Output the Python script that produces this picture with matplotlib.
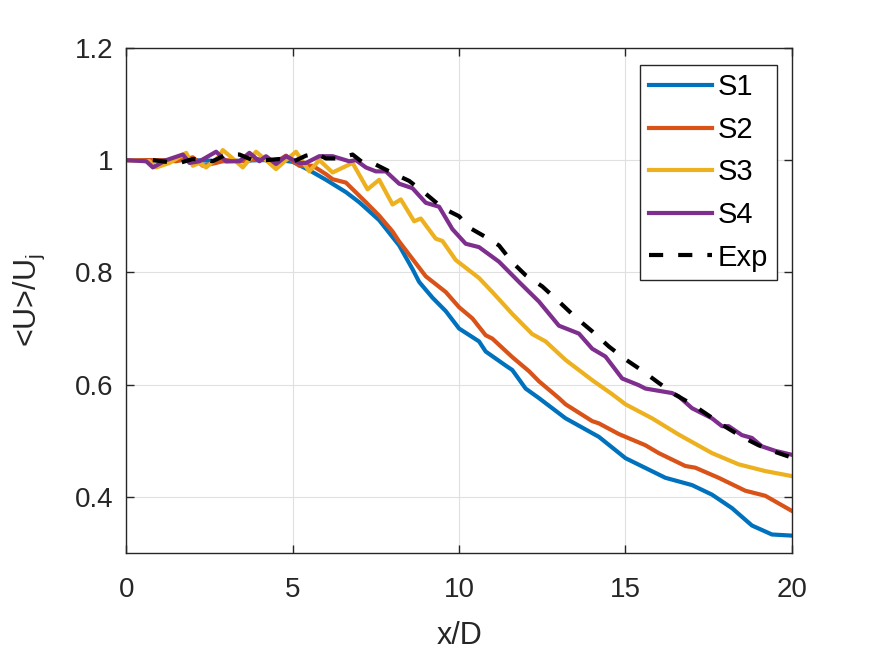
import matplotlib
matplotlib.use("Agg")
import matplotlib.pyplot as plt

plt.rcParams['font.family'] = ['Liberation Sans', 'DejaVu Sans']
plt.rcParams['mathtext.fontset'] = 'custom'
plt.rcParams['mathtext.rm'] = 'Liberation Sans'

# ---- data ----
s1_x = [0, 1, 2, 3, 4, 4.6, 5.0, 5.5, 6.0, 6.6, 7.0, 7.6, 8.2, 8.6, 8.8, 9.2, 9.6, 10.0,
        10.6, 10.8, 11.4, 11.6, 12.0, 12.4, 12.8, 13.2, 14.2, 15.0, 16.2, 17.0, 17.6,
        18.2, 18.8, 19.4, 20.0]
s1_y = [1.0, 1.0, 1.0, 0.998, 1.0, 1.0, 0.997, 0.982, 0.965, 0.943, 0.925, 0.893, 0.848,
        0.806, 0.783, 0.755, 0.731, 0.70, 0.677, 0.659, 0.634, 0.626, 0.593, 0.576, 0.558,
        0.540, 0.507, 0.469, 0.434, 0.421, 0.404, 0.380, 0.349, 0.333, 0.331]

s2_x = [0, 1, 1.5, 2.0, 2.3, 2.7, 3.0, 3.5, 4.0, 4.5, 4.8, 5.2, 5.6, 6.0, 6.2, 6.6, 7.2,
        7.6, 8.0, 8.2, 9.0, 9.6, 10.0, 10.4, 10.8, 11.0, 11.6, 12.1, 12.4, 13.0, 13.2,
        14.0, 14.2, 14.8, 15.6, 16.0, 16.8, 17.1, 17.8, 18.6, 19.2, 20.0]
s2_y = [1.0, 1.0, 0.998, 1.005, 0.99, 0.995, 1.0, 0.998, 1.002, 0.997, 1.008, 0.99, 0.99,
        0.975, 0.966, 0.960, 0.925, 0.901, 0.873, 0.855, 0.793, 0.765, 0.738, 0.718, 0.688,
        0.682, 0.649, 0.624, 0.606, 0.576, 0.565, 0.535, 0.531, 0.512, 0.492, 0.478, 0.455,
        0.452, 0.434, 0.411, 0.402, 0.375]

s3_x = [0, 0.7, 0.9, 1.3, 1.8, 2.0, 2.2, 2.4, 2.8, 2.9, 3.2, 3.5, 3.9, 4.2, 4.5, 4.8, 5.1,
        5.5, 5.8, 6.2, 6.8, 7.25, 7.6, 8.0, 8.25, 8.65, 8.85, 9.3, 9.5, 9.9, 10.6, 11.0,
        11.6, 12.2, 12.6, 13.2, 14.0, 14.6, 15.0, 15.8, 16.6, 17.6, 18.4, 19.2, 20.0]
s3_y = [1.0, 0.998, 0.987, 0.995, 1.013, 0.99, 0.995, 0.987, 1.007, 1.018, 1.003, 0.987,
        1.015, 1.0, 0.984, 1.0, 1.015, 0.98, 1.0, 0.978, 0.995, 0.948, 0.965, 0.921, 0.93,
        0.891, 0.896, 0.86, 0.856, 0.822, 0.79, 0.765, 0.726, 0.69, 0.677, 0.644, 0.608,
        0.583, 0.565, 0.540, 0.511, 0.478, 0.458, 0.446, 0.437]

s4_x = [0, 0.6, 0.8, 1.2, 1.7, 1.9, 2.2, 2.7, 3.0, 3.4, 3.7, 4.0, 4.2, 4.5, 4.8, 5.2, 5.4,
        5.8, 6.2, 6.7, 6.9, 7.2, 7.5, 7.8, 8.2, 8.6, 9.0, 9.4, 9.8, 10.2, 10.6, 11.2, 11.8,
        12.4, 13.0, 13.6, 14.0, 14.4, 14.9, 15.4, 15.6, 16.4, 16.6, 17.0, 17.6, 17.9,
        18.1, 18.5, 18.8, 19.1, 19.5, 20.0]
s4_y = [1.0, 0.998, 0.987, 1.0, 1.01, 0.995, 0.998, 1.015, 0.998, 0.998, 1.013, 0.998,
        1.007, 0.993, 1.007, 0.995, 0.995, 1.007, 1.007, 0.998, 1.0, 0.987, 0.98, 0.98,
        0.958, 0.95, 0.924, 0.917, 0.877, 0.851, 0.845, 0.819, 0.783, 0.748, 0.705, 0.691,
        0.664, 0.650, 0.611, 0.599, 0.593, 0.585, 0.579, 0.558, 0.540, 0.526, 0.526, 0.510,
        0.505, 0.490, 0.482, 0.475]

exp_x = [0.8, 1.2, 1.6, 2.0, 2.4, 2.6, 3.0, 3.4, 3.8, 4.2, 4.6, 5.0, 5.4, 5.7, 6.0, 6.4,
         6.8, 7.1, 7.5, 8.0, 8.5, 9.0, 9.5, 10.0, 10.3, 10.8, 11.2, 11.6, 12.0, 12.5, 13.0,
         13.5, 14.0, 14.5, 15.0, 15.5, 16.0, 16.5, 17.0, 17.5, 18.0, 18.5, 19.0, 19.5, 20.0]
exp_y = [1.0, 0.997, 0.995, 1.002, 1.0, 0.998, 1.01, 1.01, 1.0, 1.0, 1.002, 0.997, 1.008,
         1.012, 1.003, 1.003, 1.01, 0.996, 0.992, 0.977, 0.963, 0.94, 0.915, 0.90, 0.88,
         0.863, 0.848, 0.818, 0.795, 0.775, 0.748, 0.72, 0.695, 0.668, 0.645, 0.625, 0.603,
         0.582, 0.565, 0.545, 0.525, 0.507, 0.492, 0.480, 0.470]

labels = ['S1', 'S2', 'S3', 'S4', 'Exp']
colors = ['#0072BD', '#D95319', '#EDB120', '#7E2F8E', 'black']
x_ticks = [0, 5, 10, 15, 20]
y_ticks = [0.4, 0.6, 0.8, 1.0, 1.2]
y_ticklabels = ['0.4', '0.6', '0.8', '1', '1.2']

# ---- figure ----
fig = plt.figure(figsize=(8.75, 6.56), dpi=100)
ax = fig.add_axes([0.1443, 0.157, 0.7607, 0.770])

LW = 3.0
series = [(s1_x, s1_y), (s2_x, s2_y), (s3_x, s3_y), (s4_x, s4_y)]
for (xs, ys), lab, c in zip(series, labels[:4], colors[:4]):
    ax.plot(xs, ys, color=c, lw=LW, label=lab)
ax.plot(exp_x, exp_y, color=colors[4], lw=LW, ls=(0, (3.4, 3.6)), label=labels[4])

ax.set_xlim(0, 20)
ax.set_ylim(0.3, 1.2)
ax.set_xticks(x_ticks)
ax.set_xticklabels([str(t) for t in x_ticks])
ax.set_yticks(y_ticks)
ax.set_yticklabels(y_ticklabels)

axcol = '#262626'
ax.grid(True, color='#e0e0e0', lw=0.8)
ax.set_axisbelow(True)
for sp in ax.spines.values():
    sp.set_color(axcol)
    sp.set_linewidth(1.0)
ax.tick_params(direction='in', length=6, width=1.0, colors=axcol, labelsize=20,
               top=True, right=True)
ax.tick_params(axis='x', pad=17)
ax.tick_params(axis='y', pad=9)
for lab in ax.get_xticklabels() + ax.get_yticklabels():
    lab.set_color(axcol)

ax.set_xlabel('x/D', fontsize=22, color=axcol, labelpad=13)
ax.set_ylabel(r'<U>/U$_\mathregular{j}$', fontsize=22, color=axcol, labelpad=20)

leg = ax.legend(loc='upper right', bbox_to_anchor=(0.977, 0.967), fontsize=21,
                frameon=True, fancybox=False, edgecolor=axcol, framealpha=1,
                handlelength=2.15, handletextpad=0.2, labelspacing=0.5,
                borderpad=0.3, borderaxespad=0.0)
leg.get_frame().set_linewidth(1.0)

fig.savefig('out.png', dpi=100)
